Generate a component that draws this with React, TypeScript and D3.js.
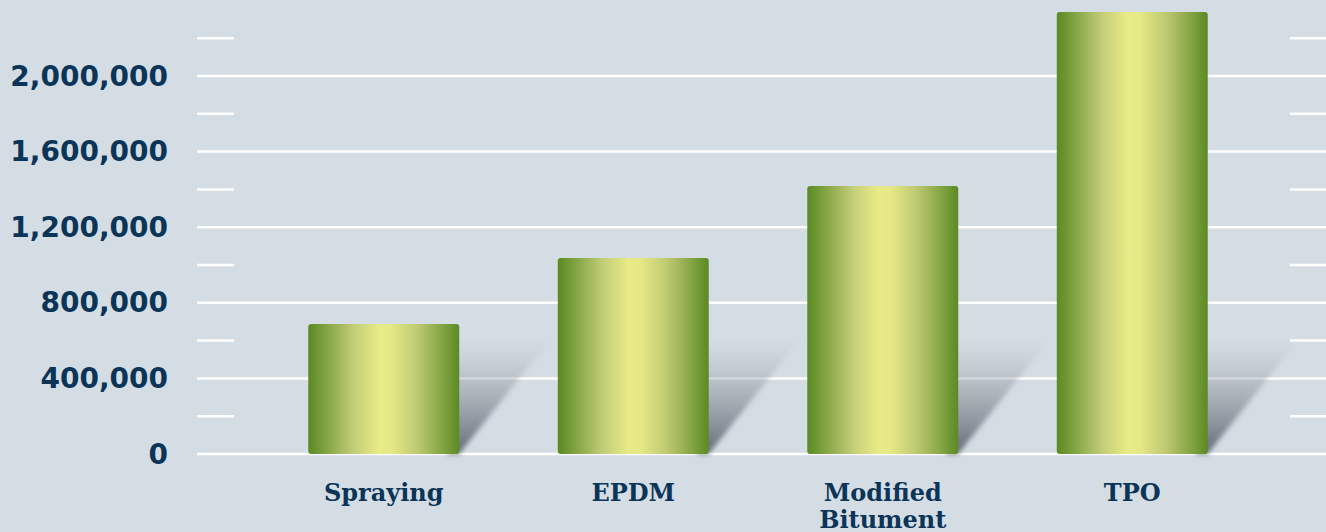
import React from "react";
import * as d3 from "d3";

const categories = ["Spraying", "EPDM", "Modified\nBitument", "TPO"];
const values = [688000, 1037000, 1418000, 2339000];
const majorTicks = [0, 400000, 800000, 1200000, 1600000, 2000000];
const minorTicks = [200000, 600000, 1000000, 1400000, 1800000, 2200000];

const W = 1326;
const H = 532;

export default function App() {
  const y = d3.scaleLinear().domain([0, 2400000]).range([454, 0.4]);
  const x = d3
    .scaleBand<string>()
    .domain(categories)
    .range([259, 1257])
    .paddingInner(0.395)
    .paddingOuter(0.1975);
  const fmt = d3.format(",");
  const shadowH = 116;
  const shadowW = 92;
  const navy = "#0b3558";

  return (
    <svg width={W} height={H} style={{ position: "absolute", left: 0, top: 0, display: "block" }}>
      <defs>
        <linearGradient id="barGrad" x1="0" x2="1" y1="0" y2="0">
          <stop offset="0" stopColor="#5a8a24" />
          <stop offset="0.12" stopColor="#82a443" />
          <stop offset="0.3" stopColor="#c3cd78" />
          <stop offset="0.47" stopColor="#e9eb87" />
          <stop offset="0.55" stopColor="#e6e886" />
          <stop offset="0.72" stopColor="#bfca72" />
          <stop offset="0.88" stopColor="#88a646" />
          <stop offset="1" stopColor="#5a8a24" />
        </linearGradient>
        <linearGradient id="shadowGrad" x1="0" x2="0" y1="1" y2="0">
          <stop offset="0" stopColor="#5c6570" stopOpacity="0.95" />
          <stop offset="0.5" stopColor="#8c949c" stopOpacity="0.6" />
          <stop offset="1" stopColor="#aab2bb" stopOpacity="0" />
        </linearGradient>
        <filter id="blur" x="-20%" y="-20%" width="140%" height="140%">
          <feGaussianBlur stdDeviation="2.5" />
        </filter>
      </defs>
      <rect x={0} y={0} width={W} height={H} fill="#d5dde4" />

      {majorTicks.map((t) => (
        <line key={"M" + t} x1={197} x2={W} y1={y(t)} y2={y(t)} stroke="#ffffff" strokeWidth={2.5} />
      ))}
      {minorTicks.map((t) => (
        <g key={"m" + t}>
          <line x1={197} x2={234} y1={y(t)} y2={y(t)} stroke="#ffffff" strokeWidth={2.5} />
          <line x1={1290} x2={W} y1={y(t)} y2={y(t)} stroke="#ffffff" strokeWidth={2.5} />
        </g>
      ))}

      {majorTicks.map((t) => (
        <text
          key={"l" + t}
          x={168}
          y={y(t)}
          textAnchor="end"
          dominantBaseline="central"
          fontFamily="'DejaVu Sans', sans-serif"
          fontWeight="bold"
          fontSize={28}
          fill={navy}
        >
          {fmt(t)}
        </text>
      ))}

      {categories.map((c, i) => {
        const bx = x(c)!;
        const bw = x.bandwidth();
        const right = bx + bw;
        const base = y(0);
        const pts = [
          [right - 12, base],
          [right - 12, base - shadowH],
          [right + shadowW, base - shadowH],
          [right, base],
        ]
          .map((p) => p.join(","))
          .join(" ");
        return (
          <g key={c}>
            <polygon points={pts} fill="url(#shadowGrad)" filter="url(#blur)" />
            <rect
              x={bx}
              y={y(values[i])}
              width={bw}
              height={base - y(values[i])}
              rx={3}
              ry={3}
              fill="url(#barGrad)"
            />
          </g>
        );
      })}

      {categories.map((c) => {
        const lines = c.split("\n");
        const cx = x(c)! + x.bandwidth() / 2;
        return (
          <text
            key={"c" + c}
            x={cx}
            y={501}
            textAnchor="middle"
            fontFamily="'DejaVu Serif', serif"
            fontWeight="bold"
            fontSize={24}
            fill={navy}
          >
            {lines.map((ln, j) => (
              <tspan key={j} x={cx} dy={j === 0 ? 0 : 27}>
                {ln}
              </tspan>
            ))}
          </text>
        );
      })}
    </svg>
  );
}
